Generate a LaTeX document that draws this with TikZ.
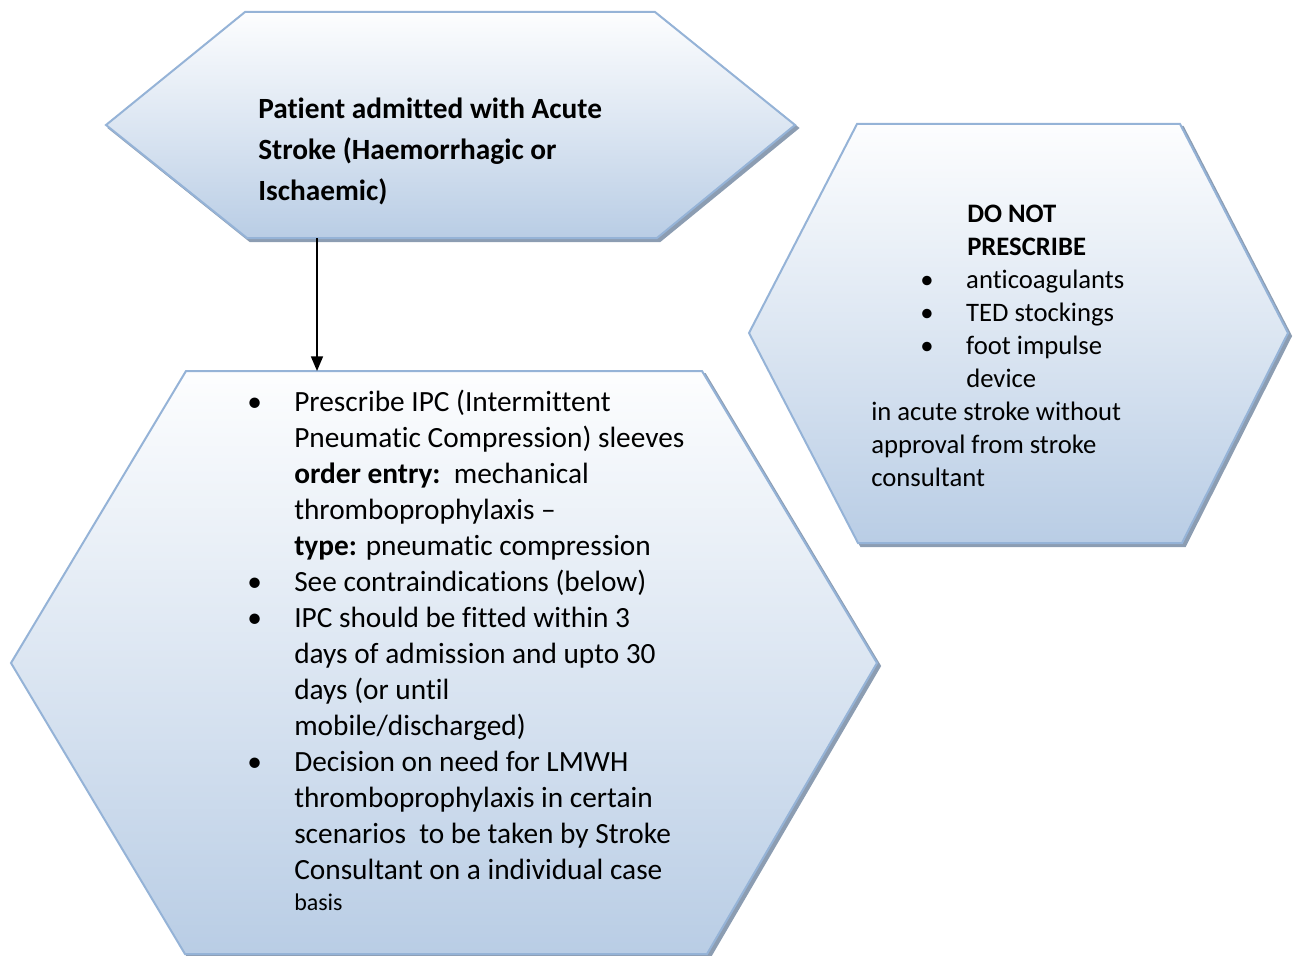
\documentclass[tikz,border=0pt]{standalone}
\usepackage{fontspec}
\setmainfont{Carlito}[Ligatures=NoCommon]
\usetikzlibrary{arrows.meta}
\definecolor{hexborder}{HTML}{95B3D7}
\definecolor{hexbottom}{HTML}{B9CDE5}
\definecolor{hexmid}{HTML}{DCE6F2}
\definecolor{hexshadow}{HTML}{8C9DB2}
\tikzset{
  hexshape/.style={draw=hexborder, line width=1.5pt, line join=miter, top color=white!97!hexbottom, bottom color=hexbottom, middle color=hexmid},
  hexshade/.style={fill=hexshadow, draw=hexshadow, line width=1.5pt, shift={(3,3)}},
  boxtext/.style={anchor=base west, align=left, inner sep=0pt},
  flowarrow/.style={-{Triangle[length=11pt,width=9pt]}, line width=1.2pt, black},
}
\newcommand{\bul}[1]{\makebox[#1][l]{\textbullet}}
\begin{document}
\begin{tikzpicture}[x=0.75pt, y=-0.75pt]
\useasboundingbox (0,0) rectangle (1293,956);
% shadows
\path[hexshade] (245,12) -- (655,12) -- (795,125) -- (657,238) -- (247,238) -- (106,125) -- cycle;
\path[hexshade] (857,124) -- (1180,124) -- (1288,333) -- (1182,543) -- (858,543) -- (749,333) -- cycle;
\path[hexshade] (186,371) -- (702,371) -- (877,663) -- (707,954) -- (185,954) -- (11,663) -- cycle;
% hexagons
\path[hexshape] (245,12) -- (655,12) -- (795,125) -- (657,238) -- (247,238) -- (106,125) -- cycle;
\path[hexshape] (857,124) -- (1180,124) -- (1288,333) -- (1182,543) -- (858,543) -- (749,333) -- cycle;
\path[hexshape] (186,371) -- (702,371) -- (877,663) -- (707,954) -- (185,954) -- (11,663) -- cycle;
\coordinate (admitBottom) at (317,238);
\coordinate (ipcTop) at (317,371);
% texts (base anchor = baseline of the last line)
\node[boxtext, font=\fontsize{22}{30.75}\selectfont\bfseries] (admit) at (258,200)
  {Patient admitted with Acute\\Stroke (Haemorrhagic or\\Ischaemic)};
\node[boxtext, font=\fontsize{20}{24.75}\selectfont] (donot) at (871,486)
  {\hspace*{72pt}\textbf{DO NOT}\\
   \hspace*{72pt}\textbf{PRESCRIBE}\\
   \hspace*{36.75pt}\bul{34.5pt}anticoagulants\\
   \hspace*{36.75pt}\bul{34.5pt}TED stockings\\
   \hspace*{36.75pt}\bul{34.5pt}foot impulse\\
   \hspace*{71.25pt}device\\
   in acute stroke without\\
   approval from stroke\\
   consultant};
\node[boxtext, font=\fontsize{22}{27}\selectfont] (ipc) at (247,910)
  {\bul{35.25pt}Prescribe IPC (Intermittent\\
   \hspace*{35.25pt}Pneumatic Compression) sleeves\\
   \hspace*{35.25pt}\textbf{order entry:}\ \ mechanical\\
   \hspace*{35.25pt}thromboprophylaxis --\\
   \hspace*{35.25pt}\textbf{type:} pneumatic compression\\
   \bul{35.25pt}See contraindications (below)\\
   \bul{35.25pt}IPC should be fitted within 3\\
   \hspace*{35.25pt}days of admission and upto 30\\
   \hspace*{35.25pt}days (or until\\
   \hspace*{35.25pt}mobile/discharged)\\
   \bul{35.25pt}Decision on need for LMWH\\
   \hspace*{35.25pt}thromboprophylaxis in certain\\
   \hspace*{35.25pt}scenarios\ \ to be taken by Stroke\\
   \hspace*{35.25pt}Consultant on a individual case\\[-3.75pt]
   \hspace*{35.25pt}{\fontsize{18}{20}\selectfont basis}};
% connector
\draw[flowarrow] (admitBottom) -- (ipcTop);
\end{tikzpicture}
\end{document}
